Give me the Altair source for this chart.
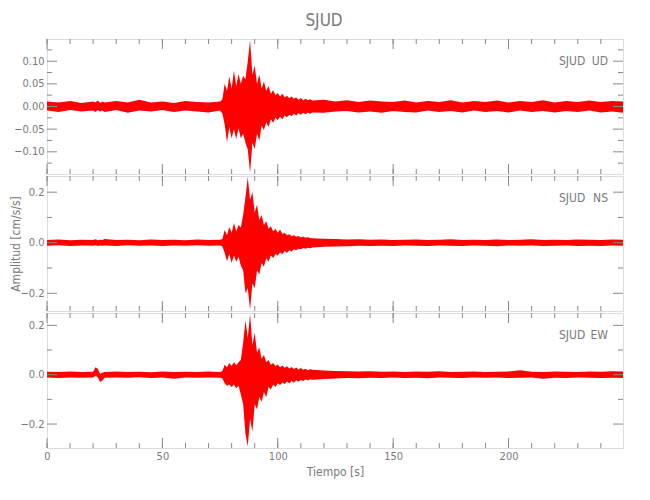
import altair as alt
import pandas as pd

# ---------------- data (envelope of the traces) ----------------
TIME = [0, 5, 10, 15, 20, 21, 22, 23, 24, 25, 30, 35, 40, 45, 50, 55, 60, 65, 70, 75,
        76, 77, 78, 79, 80, 81, 82, 83, 84, 85, 86, 87, 88, 89, 90, 91, 92, 93, 94, 95,
        96, 97, 98, 99, 100, 101, 102, 103, 104, 105, 106, 107, 108, 109, 110, 111, 112, 113, 114,
        115, 120, 125, 130, 135, 140, 145, 150, 155, 160, 165, 170, 175, 180, 185, 190, 195,
        200, 205, 210, 215, 220, 225, 230, 235, 240, 245, 249.6]

UD_UP = [0.011, 0.009, 0.012, 0.008, 0.011, 0.009, 0.013, 0.008, 0.011, 0.009, 0.012, 0.009, 0.015, 0.009, 0.011, 0.008, 0.012, 0.010, 0.009, 0.011,
         0.016, 0.050, 0.035, 0.066, 0.040, 0.079, 0.045, 0.072, 0.050, 0.068, 0.060, 0.100, 0.146, 0.070, 0.090, 0.050, 0.070, 0.040, 0.055, 0.035,
         0.045, 0.028, 0.036, 0.025, 0.030, 0.022, 0.028, 0.020, 0.024, 0.018, 0.022, 0.017, 0.020, 0.015, 0.019, 0.014, 0.017, 0.014, 0.016,
         0.013, 0.015, 0.011, 0.014, 0.010, 0.013, 0.011, 0.010, 0.013, 0.009, 0.012, 0.010, 0.014, 0.009, 0.012, 0.010, 0.013,
         0.009, 0.012, 0.010, 0.014, 0.009, 0.012, 0.010, 0.013, 0.010, 0.012, 0.011]
UD_LO = [-0.009, -0.012, -0.008, -0.011, -0.009, -0.012, -0.008, -0.011, -0.009, -0.012, -0.008, -0.014, -0.009, -0.011, -0.008, -0.012, -0.009, -0.011, -0.013, -0.009,
         -0.016, -0.040, -0.079, -0.045, -0.070, -0.050, -0.072, -0.048, -0.070, -0.060, -0.080, -0.095, -0.146, -0.080, -0.094, -0.060, -0.075, -0.042, -0.052, -0.035,
         -0.045, -0.028, -0.036, -0.025, -0.030, -0.022, -0.028, -0.020, -0.024, -0.018, -0.021, -0.016, -0.020, -0.015, -0.018, -0.014, -0.017, -0.013, -0.016,
         -0.013, -0.014, -0.011, -0.010, -0.013, -0.011, -0.014, -0.010, -0.012, -0.013, -0.009, -0.012, -0.010, -0.013, -0.009, -0.012, -0.010,
         -0.013, -0.009, -0.012, -0.010, -0.013, -0.010, -0.012, -0.009, -0.013, -0.011, -0.014]

NS_UP = [0.011, 0.013, 0.010, 0.012, 0.011, 0.014, 0.010, 0.012, 0.011, 0.015, 0.011, 0.012, 0.010, 0.013, 0.011, 0.012, 0.010, 0.013, 0.011, 0.012,
         0.015, 0.050, 0.030, 0.062, 0.040, 0.078, 0.045, 0.070, 0.060, 0.110, 0.180, 0.260, 0.170, 0.200, 0.120, 0.150, 0.090, 0.110, 0.070, 0.085,
         0.055, 0.065, 0.045, 0.055, 0.040, 0.052, 0.035, 0.040, 0.030, 0.034, 0.026, 0.030, 0.024, 0.027, 0.021, 0.025, 0.020, 0.022, 0.019,
         0.018, 0.016, 0.015, 0.013, 0.014, 0.012, 0.013, 0.011, 0.012, 0.013, 0.011, 0.012, 0.014, 0.011, 0.012, 0.011, 0.013,
         0.011, 0.012, 0.014, 0.011, 0.012, 0.011, 0.013, 0.012, 0.011, 0.013, 0.012]
NS_LO = [-0.012, -0.010, -0.013, -0.011, -0.012, -0.010, -0.013, -0.011, -0.012, -0.011, -0.013, -0.010, -0.012, -0.011, -0.013, -0.011, -0.012, -0.010, -0.012, -0.011,
         -0.015, -0.040, -0.073, -0.045, -0.080, -0.050, -0.075, -0.055, -0.090, -0.110, -0.200, -0.180, -0.265, -0.160, -0.180, -0.110, -0.125, -0.080, -0.095, -0.060,
         -0.075, -0.050, -0.060, -0.045, -0.050, -0.038, -0.046, -0.033, -0.040, -0.030, -0.035, -0.026, -0.030, -0.024, -0.026, -0.021, -0.024, -0.020, -0.022,
         -0.019, -0.016, -0.015, -0.014, -0.012, -0.013, -0.012, -0.013, -0.011, -0.012, -0.013, -0.011, -0.012, -0.013, -0.011, -0.012, -0.014,
         -0.011, -0.012, -0.011, -0.013, -0.012, -0.011, -0.013, -0.012, -0.013, -0.011, -0.012]

EW_UP = [0.012, 0.011, 0.013, 0.011, 0.012, 0.030, 0.024, 0.004, 0.008, 0.011, 0.013, 0.011, 0.012, 0.010, 0.013, 0.011, 0.012, 0.011, 0.013, 0.011,
         0.015, 0.040, 0.030, 0.047, 0.035, 0.050, 0.038, 0.050, 0.060, 0.130, 0.220, 0.150, 0.245, 0.120, 0.170, 0.090, 0.110, 0.065, 0.080, 0.050,
         0.060, 0.040, 0.047, 0.035, 0.041, 0.030, 0.037, 0.028, 0.034, 0.025, 0.031, 0.023, 0.029, 0.021, 0.027, 0.020, 0.024, 0.018, 0.022,
         0.020, 0.017, 0.015, 0.014, 0.013, 0.014, 0.012, 0.013, 0.011, 0.013, 0.012, 0.014, 0.011, 0.012, 0.013, 0.011, 0.012,
         0.013, 0.018, 0.012, 0.011, 0.013, 0.012, 0.011, 0.013, 0.012, 0.014, 0.013]
EW_LO = [-0.011, -0.013, -0.011, -0.012, -0.011, -0.004, -0.010, -0.030, -0.024, -0.012, -0.011, -0.012, -0.010, -0.013, -0.011, -0.016, -0.011, -0.012, -0.011, -0.012,
         -0.015, -0.035, -0.045, -0.040, -0.050, -0.040, -0.055, -0.045, -0.080, -0.120, -0.240, -0.290, -0.180, -0.230, -0.120, -0.140, -0.090, -0.110, -0.070, -0.090,
         -0.050, -0.060, -0.040, -0.050, -0.035, -0.042, -0.032, -0.038, -0.028, -0.036, -0.025, -0.033, -0.022, -0.029, -0.021, -0.026, -0.019, -0.024, -0.018,
         -0.020, -0.017, -0.015, -0.013, -0.014, -0.012, -0.013, -0.011, -0.013, -0.012, -0.014, -0.011, -0.012, -0.013, -0.011, -0.012, -0.011,
         -0.013, -0.012, -0.011, -0.016, -0.012, -0.013, -0.011, -0.012, -0.013, -0.012, -0.013]

X_DOMAIN = [0, 249.6]
X_MINOR = list(range(0, 250, 10))
X_MAJOR = [0, 50, 100, 150, 200]

UD_DOMAIN = [-0.149, 0.149]
UD_MAJOR = [-0.10, -0.05, 0.00, 0.05, 0.10]
UD_MINOR = [-0.125, -0.075, -0.025, 0.025, 0.075, 0.125]

NS_DOMAIN = [-0.270, 0.264]
NS_MAJOR = [-0.2, 0.0, 0.2]
NS_MINOR = [-0.1, 0.1]

EW_DOMAIN = [-0.297, 0.250]
EW_MAJOR = [-0.2, 0.0, 0.2]
EW_MINOR = [-0.1, 0.1]

STATION = "SJUD"
COMPONENTS = ["UD", "NS", "EW"]
TITLE = "SJUD"
Y_TITLE = "Amplitud [cm/s/s]"
X_TITLE = "Tiempo [s]"

# ---------------- styling ----------------
W, H = 576, 135
FONT = "'DejaVu Sans Condensed', 'DejaVu Sans', sans-serif"
GREY = "#8a8a8a"
TXT = "#7a7a7a"
RED = "#ff0000"


def panel(up, lo, ydom, major, minor, comp, fmt, ytitle, show_x):
    xscale = alt.Scale(domain=X_DOMAIN, nice=False, zero=False)
    yscale = alt.Scale(domain=ydom, nice=False, zero=False)
    if show_x:
        xaxis = alt.Axis(values=X_MAJOR, ticks=False, domain=False, grid=False,
                         title=X_TITLE, labelPadding=2, titlePadding=5,
                         labelFont=FONT, labelFontSize=11, labelColor=TXT,
                         titleFont=FONT, titleFontSize=12, titleColor=TXT,
                         titleFontWeight="normal", labelFlush=False)
    else:
        xaxis = None
    if ytitle:
        yaxis = alt.Axis(values=major, format=fmt, ticks=False, domain=False, grid=False,
                         title=ytitle, titleX=-32, titleY=H / 2, titleAngle=270,
                         titleAlign="center", titleBaseline="middle",
                         labelPadding=3, labelFont=FONT, labelFontSize=11, labelColor=TXT,
                         titleFont=FONT, titleFontSize=12, titleColor=TXT,
                         titleFontWeight="normal", labelFlush=False)
    else:
        yaxis = alt.Axis(values=major, format=fmt, ticks=False, domain=False, grid=False,
                         title=None, labelPadding=3, labelFont=FONT, labelFontSize=11,
                         labelColor=TXT, labelFlush=False)

    X = lambda: alt.X("t:Q", scale=xscale, axis=xaxis)
    Y = lambda: alt.Y("up:Q", scale=yscale, axis=yaxis)

    df = pd.DataFrame({"t": TIME, "up": up, "lo": lo})
    trace = alt.Chart(df).mark_area(color=RED, opacity=1, clip=True).encode(
        x=X(), y=Y(), y2="lo:Q")

    layers = [trace]
    for vals, ln in ((X_MINOR, 5), (X_MAJOR, 10)):
        d = pd.DataFrame({"t": vals})
        layers.append(alt.Chart(d).mark_rule(color=GREY, strokeWidth=1).encode(
            x=X(), y=alt.value(0), y2=alt.value(ln)))
        layers.append(alt.Chart(d).mark_rule(color=GREY, strokeWidth=1).encode(
            x=X(), y=alt.value(H), y2=alt.value(H - ln)))
    for vals, ln in ((minor, 5), (major, 10)):
        d = pd.DataFrame({"up": vals})
        layers.append(alt.Chart(d).mark_rule(color=GREY, strokeWidth=1).encode(
            y=Y(), x=alt.value(0), x2=alt.value(ln)))
        layers.append(alt.Chart(d).mark_rule(color=GREY, strokeWidth=1).encode(
            y=Y(), x=alt.value(W), x2=alt.value(W - ln)))

    lab = pd.DataFrame({"station": [STATION], "comp": [comp]})
    layers.append(alt.Chart(lab).mark_text(align="left", baseline="alphabetic",
                                           font=FONT, fontSize=12, color=TXT).encode(
        x=alt.value(512), y=alt.value(26), text="station:N"))
    layers.append(alt.Chart(lab).mark_text(align="right", baseline="alphabetic",
                                           font=FONT, fontSize=12, color=TXT).encode(
        x=alt.value(561), y=alt.value(26), text="comp:N"))

    return alt.layer(*layers).properties(width=W, height=H)


p1 = panel(UD_UP, UD_LO, UD_DOMAIN, UD_MAJOR, UD_MINOR, COMPONENTS[0], ".2f", None, False)
p2 = panel(NS_UP, NS_LO, NS_DOMAIN, NS_MAJOR, NS_MINOR, COMPONENTS[1], ".1f", Y_TITLE, False)
p3 = panel(EW_UP, EW_LO, EW_DOMAIN, EW_MAJOR, EW_MINOR, COMPONENTS[2], ".1f", None, True)

chart = alt.vconcat(p1, p2, p3, spacing=0).properties(
    title=alt.TitleParams(TITLE, font=FONT, fontSize=17, fontWeight="normal", color=TXT,
                          anchor="middle", frame="group", offset=8, dx=-11),
    padding={"left": 0, "top": 4, "right": 5, "bottom": 5},
).configure_view(stroke=GREY, strokeWidth=1).configure(background="white")

chart.save("out.html", embed_options={"renderer": "svg", "actions": False})
